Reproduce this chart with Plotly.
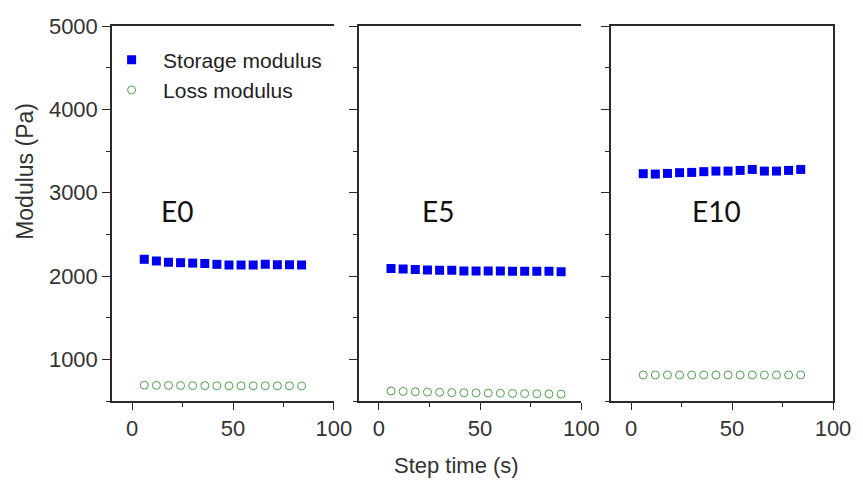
import plotly.graph_objects as go

# ---- data ----
time_e0 = [6, 12, 18, 24, 30, 36, 42, 48, 54, 60, 66, 72, 78, 84]
storage_e0 = [2200, 2180, 2165, 2160, 2155, 2150, 2140, 2132, 2132, 2132, 2140, 2136, 2136, 2132]
loss_e0 = [690, 688, 687, 686, 684, 684, 683, 682, 682, 683, 683, 682, 682, 680]

time_e5 = [6, 12, 18, 24, 30, 36, 42, 48, 54, 60, 66, 72, 78, 84, 90]
storage_e5 = [2089, 2084, 2077, 2072, 2068, 2068, 2060, 2060, 2060, 2060, 2056, 2056, 2056, 2056, 2052]
loss_e5 = [620, 615, 610, 607, 604, 601, 599, 597, 595, 593, 591, 589, 587, 585, 583]

time_e10 = [6, 12, 18, 24, 30, 36, 42, 48, 54, 60, 66, 72, 78, 84]
storage_e10 = [3228, 3223, 3231, 3240, 3243, 3252, 3259, 3259, 3267, 3279, 3259, 3259, 3267, 3279]
loss_e10 = [812, 812, 812, 812, 812, 812, 812, 812, 812, 812, 812, 812, 812, 812]

panel_labels = ["E0", "E5", "E10"]
x_ticks = [0, 50, 100]
y_ticks = [1000, 2000, 3000, 4000, 5000]

BLUE = "#0000f0"
GREEN = "#4ea24e"
AXC = "#2a2a2a"

panels = [(time_e0, storage_e0, loss_e0), (time_e5, storage_e5, loss_e5), (time_e10, storage_e10, loss_e10)]

fig = go.Figure()
for i, (t, s, l) in enumerate(panels):
    xa = "x" if i == 0 else f"x{i+1}"
    ya = "y" if i == 0 else f"y{i+1}"
    fig.add_trace(go.Scatter(x=t, y=s, mode="markers", name="Storage modulus",
                             xaxis=xa, yaxis=ya, showlegend=(i == 0),
                             marker=dict(symbol="square", size=9, color=BLUE)))
    fig.add_trace(go.Scatter(x=t, y=l, mode="markers", name="Loss modulus",
                             xaxis=xa, yaxis=ya, showlegend=(i == 0),
                             marker=dict(symbol="circle-open", size=8, color=GREEN,
                                         line=dict(width=1, color=GREEN))))

domains = [[0.0, 0.3077], [0.342, 0.651], [0.692, 1.0]]
tickfont = dict(family="Liberation Sans, Arial", size=22, color="#333")

layout = dict(
    width=863, height=481,
    margin=dict(l=112, r=23, t=26, b=80),
    plot_bgcolor="white", paper_bgcolor="white",
    showlegend=True,
    legend=dict(x=-0.0165, y=0.964, xanchor="left", yanchor="top",
                bgcolor="rgba(0,0,0,0)", font=dict(family="Liberation Sans, Arial", size=21, color="#222"),
                itemwidth=53, tracegroupgap=0),
)

for i in range(3):
    xk = "xaxis" if i == 0 else f"xaxis{i+1}"
    yk = "yaxis" if i == 0 else f"yaxis{i+1}"
    layout[xk] = dict(
        domain=domains[i], range=[-10, 100], anchor="y" if i == 0 else f"y{i+1}",
        tickvals=x_ticks, ticks="outside", ticklen=7, tickwidth=1.3, tickcolor=AXC,
        showline=True, linecolor=AXC, linewidth=1.5, mirror=True,
        showgrid=False, zeroline=False, tickfont=tickfont,
        minor=dict(dtick=25, tick0=0, ticks="outside", ticklen=4, tickwidth=1.2, tickcolor=AXC, showgrid=False),
    )
    layout[yk] = dict(
        domain=[0, 1], range=[500, 5000], anchor="x" if i == 0 else f"x{i+1}",
        tickvals=y_ticks, ticks="outside", ticklen=8, tickwidth=1.3, tickcolor=AXC,
        showline=True, linecolor=AXC, linewidth=1.5, mirror=(i == 2),
        showgrid=False, zeroline=False, tickfont=tickfont,
        showticklabels=(i == 0),
        minor=dict(dtick=500, tick0=0, ticks="outside", ticklen=4, tickwidth=1.2, tickcolor=AXC, showgrid=False),
    )

fig.update_layout(**layout)

label_pos = [(22, 2780), (29, 2780), (42.4, 2780)]
for i, lab in enumerate(panel_labels):
    fig.add_annotation(text=lab, x=label_pos[i][0], y=label_pos[i][1],
                       xref="x" if i == 0 else f"x{i+1}", yref="y" if i == 0 else f"y{i+1}",
                       showarrow=False, font=dict(family="Lato", size=28, color="#111"))

pw = 863 - 112 - 23
ph = 481 - 26 - 80
fig.add_annotation(text="Step time (s)", x=(460 - 112) / pw, y=(401 - 465) / ph,
                   xref="paper", yref="paper", xanchor="center", yanchor="middle",
                   showarrow=False, font=dict(family="Liberation Sans, Arial", size=22, color="#333"))
fig.add_annotation(text="Modulus (Pa)", textangle=-90, x=(24 - 112) / pw, y=(401 - 171) / ph,
                   xref="paper", yref="paper", xanchor="center", yanchor="middle",
                   showarrow=False, font=dict(family="Liberation Sans, Arial", size=23, color="#333"))

fig.write_html("out.html", config={"displayModeBar": False},
               post_script="document.body.style.margin='0';")
